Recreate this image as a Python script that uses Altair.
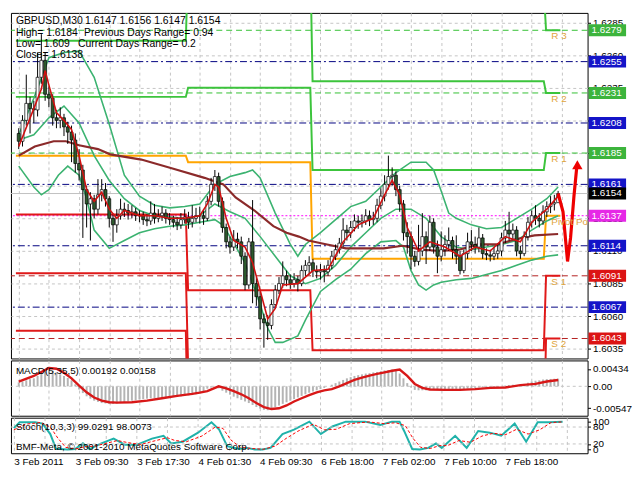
import altair as alt
import pandas as pd

# ---------------- data ----------------
bars = list(range(144))
opens = [1.6200, 1.6194, 1.6210, 1.6223, 1.6219, 1.6218, 1.6243, 1.6256, 1.6230, 1.6227,
         1.6212, 1.6210, 1.6212, 1.6205, 1.6201, 1.6195, 1.6177, 1.6172, 1.6157, 1.6146,
         1.6150, 1.6142, 1.6153, 1.6157, 1.6150, 1.6135, 1.6130, 1.6137, 1.6142, 1.6141,
         1.6139, 1.6140, 1.6137, 1.6137, 1.6134, 1.6133, 1.6139, 1.6135, 1.6137, 1.6139,
         1.6135, 1.6134, 1.6132, 1.6130, 1.6134, 1.6136, 1.6132, 1.6135, 1.6137, 1.6137,
         1.6135, 1.6148, 1.6161, 1.6167, 1.6148, 1.6128, 1.6117, 1.6113, 1.6119, 1.6117,
         1.6106, 1.6084, 1.6117, 1.6085, 1.6075, 1.6058, 1.6055, 1.6053, 1.6069, 1.6080,
         1.6085, 1.6091, 1.6088, 1.6085, 1.6088, 1.6085, 1.6095, 1.6099, 1.6101, 1.6095,
         1.6094, 1.6095, 1.6094, 1.6099, 1.6106, 1.6111, 1.6116, 1.6126, 1.6124, 1.6128,
         1.6133, 1.6132, 1.6133, 1.6137, 1.6134, 1.6135, 1.6145, 1.6152, 1.6161, 1.6167,
         1.6168, 1.6157, 1.6146, 1.6124, 1.6121, 1.6106, 1.6102, 1.6110, 1.6121, 1.6113,
         1.6132, 1.6113, 1.6106, 1.6111, 1.6115, 1.6118, 1.6111, 1.6106, 1.6095, 1.6108,
         1.6117, 1.6115, 1.6113, 1.6120, 1.6108, 1.6107, 1.6106, 1.6108, 1.6110, 1.6120,
         1.6126, 1.6123, 1.6126, 1.6110, 1.6108, 1.6121, 1.6132, 1.6137, 1.6135, 1.6133,
         1.6140, 1.6144, 1.6146, 1.6147]
closes = [1.6194, 1.6210, 1.6223, 1.6219, 1.6218, 1.6243, 1.6256, 1.6230, 1.6227, 1.6212,
          1.6210, 1.6212, 1.6205, 1.6201, 1.6195, 1.6177, 1.6172, 1.6157, 1.6146, 1.6150,
          1.6142, 1.6153, 1.6157, 1.6150, 1.6135, 1.6130, 1.6137, 1.6142, 1.6141, 1.6139,
          1.6140, 1.6137, 1.6137, 1.6134, 1.6133, 1.6139, 1.6135, 1.6137, 1.6139, 1.6135,
          1.6134, 1.6132, 1.6130, 1.6134, 1.6136, 1.6132, 1.6135, 1.6137, 1.6137, 1.6135,
          1.6148, 1.6161, 1.6167, 1.6148, 1.6128, 1.6117, 1.6113, 1.6119, 1.6117, 1.6106,
          1.6084, 1.6117, 1.6085, 1.6075, 1.6058, 1.6055, 1.6053, 1.6069, 1.6080, 1.6085,
          1.6091, 1.6088, 1.6085, 1.6088, 1.6085, 1.6095, 1.6099, 1.6101, 1.6095, 1.6094,
          1.6095, 1.6094, 1.6099, 1.6106, 1.6111, 1.6116, 1.6126, 1.6124, 1.6128, 1.6133,
          1.6132, 1.6133, 1.6137, 1.6134, 1.6135, 1.6145, 1.6152, 1.6161, 1.6167, 1.6168,
          1.6157, 1.6146, 1.6124, 1.6121, 1.6106, 1.6102, 1.6110, 1.6121, 1.6113, 1.6132,
          1.6113, 1.6106, 1.6111, 1.6115, 1.6118, 1.6111, 1.6106, 1.6095, 1.6108, 1.6117,
          1.6115, 1.6113, 1.6120, 1.6108, 1.6107, 1.6106, 1.6108, 1.6110, 1.6120, 1.6126,
          1.6123, 1.6126, 1.6110, 1.6108, 1.6121, 1.6132, 1.6137, 1.6135, 1.6133, 1.6140,
          1.6144, 1.6146, 1.6147, 1.6154]
highs = [1.6204, 1.6214, 1.6245, 1.6228, 1.6225, 1.6262, 1.6276, 1.6262, 1.6236, 1.6230,
         1.6218, 1.6220, 1.6215, 1.6209, 1.6206, 1.6200, 1.6188, 1.6176, 1.6160, 1.6155,
         1.6153, 1.6165, 1.6165, 1.6162, 1.6152, 1.6138, 1.6142, 1.6150, 1.6147, 1.6146,
         1.6145, 1.6143, 1.6141, 1.6140, 1.6138, 1.6148, 1.6146, 1.6142, 1.6144, 1.6142,
         1.6139, 1.6137, 1.6136, 1.6139, 1.6142, 1.6140, 1.6145, 1.6143, 1.6144, 1.6142,
         1.6152, 1.6166, 1.6172, 1.6170, 1.6151, 1.6131, 1.6121, 1.6126, 1.6124, 1.6121,
         1.6109, 1.6120, 1.6149, 1.6090, 1.6079, 1.6062, 1.6061, 1.6073, 1.6084, 1.6090,
         1.6102, 1.6095, 1.6092, 1.6093, 1.6091, 1.6099, 1.6103, 1.6106, 1.6104, 1.6099,
         1.6100, 1.6099, 1.6103, 1.6110, 1.6115, 1.6120, 1.6135, 1.6130, 1.6133, 1.6138,
         1.6137, 1.6138, 1.6142, 1.6141, 1.6140, 1.6150, 1.6158, 1.6168, 1.6183, 1.6174,
         1.6171, 1.6160, 1.6149, 1.6132, 1.6125, 1.6110, 1.6130, 1.6139, 1.6125, 1.6137,
         1.6135, 1.6118, 1.6125, 1.6122, 1.6128, 1.6121, 1.6122, 1.6110, 1.6111, 1.6124,
         1.6126, 1.6121, 1.6128, 1.6123, 1.6112, 1.6111, 1.6113, 1.6116, 1.6124, 1.6133,
         1.6140, 1.6131, 1.6129, 1.6114, 1.6125, 1.6136, 1.6141, 1.6145, 1.6139, 1.6145,
         1.6148, 1.6152, 1.6153, 1.6156]
lows = [1.6188, 1.6190, 1.6206, 1.6200, 1.6208, 1.6213, 1.6238, 1.6225, 1.6220, 1.6206,
        1.6204, 1.6204, 1.6198, 1.6192, 1.6178, 1.6170, 1.6164, 1.6120, 1.6128, 1.6118,
        1.6135, 1.6138, 1.6148, 1.6144, 1.6128, 1.6117, 1.6124, 1.6134, 1.6136, 1.6134,
        1.6135, 1.6133, 1.6132, 1.6130, 1.6129, 1.6130, 1.6131, 1.6132, 1.6133, 1.6131,
        1.6130, 1.6128, 1.6126, 1.6127, 1.6131, 1.6127, 1.6128, 1.6132, 1.6131, 1.6130,
        1.6133, 1.6145, 1.6156, 1.6144, 1.6124, 1.6112, 1.6108, 1.6110, 1.6112, 1.6100,
        1.6080, 1.6081, 1.6070, 1.6068, 1.6050, 1.6036, 1.6042, 1.6050, 1.6066, 1.6077,
        1.6082, 1.6083, 1.6081, 1.6082, 1.6079, 1.6083, 1.6091, 1.6092, 1.6090, 1.6089,
        1.6088, 1.6086, 1.6091, 1.6096, 1.6103, 1.6108, 1.6113, 1.6118, 1.6120, 1.6125,
        1.6127, 1.6128, 1.6130, 1.6129, 1.6130, 1.6132, 1.6142, 1.6148, 1.6157, 1.6160,
        1.6152, 1.6140, 1.6118, 1.6108, 1.6096, 1.6098, 1.6099, 1.6106, 1.6100, 1.6110,
        1.6108, 1.6093, 1.6102, 1.6106, 1.6110, 1.6104, 1.6100, 1.6092, 1.6093, 1.6104,
        1.6110, 1.6108, 1.6109, 1.6104, 1.6103, 1.6102, 1.6103, 1.6104, 1.6106, 1.6116,
        1.6118, 1.6119, 1.6106, 1.6104, 1.6106, 1.6118, 1.6128, 1.6130, 1.6128, 1.6130,
        1.6136, 1.6139, 1.6141, 1.6147]

# Bollinger bands (teal)
bb_up_bars = [0, 4, 8, 12, 16, 20, 24, 28, 32, 36, 40, 44, 48, 52, 56, 60, 62, 64, 68, 72,
              74, 76, 80, 84, 88, 92, 96, 100, 104, 108, 110, 112, 114, 116, 120, 124, 128, 132, 136, 140, 143]
bb_up = [1.6199, 1.6227, 1.6258, 1.6262, 1.6263, 1.6243, 1.6207, 1.6168, 1.6152, 1.6145,
         1.6143, 1.6144, 1.6146, 1.6161, 1.6167, 1.6170, 1.6172, 1.6166, 1.6139, 1.6115,
         1.6106, 1.6115, 1.6124, 1.6134, 1.6144, 1.6148, 1.6159, 1.6170, 1.6178, 1.6178,
         1.6172, 1.6156, 1.6139, 1.6135, 1.6130, 1.6127, 1.6128, 1.6135, 1.6142, 1.6150, 1.6159]
bb_mid_bars = [0, 4, 8, 12, 16, 20, 24, 28, 32, 36, 40, 44, 48, 52, 56, 60, 64, 68, 72, 76,
               80, 84, 88, 92, 96, 100, 104, 108, 112, 116, 120, 124, 128, 132, 136, 140, 143]
bb_mid = [1.6195, 1.6199, 1.6212, 1.6221, 1.6208, 1.6183, 1.6164, 1.6150, 1.6141, 1.6137,
          1.6136, 1.6135, 1.6137, 1.6146, 1.6140, 1.6135, 1.6121, 1.6106, 1.6091, 1.6085,
          1.6089, 1.6099, 1.6113, 1.6124, 1.6135, 1.6142, 1.6142, 1.6135, 1.6121, 1.6113,
          1.6111, 1.6113, 1.6115, 1.6118, 1.6126, 1.6133, 1.6137]
bb_low_bars = [0, 4, 6, 8, 10.5, 13, 16, 18, 20, 24, 28, 32, 36, 40, 44, 48, 52, 54, 56, 60,
               64, 66, 68, 70, 74, 76, 80, 84, 88, 92, 96, 100, 102, 104, 106, 108, 110, 112, 116, 120,
               124, 128, 132, 136, 140, 143]
bb_low = [1.6175, 1.6159, 1.6153, 1.6157, 1.6168, 1.6175, 1.6168, 1.6150, 1.6126, 1.6112,
          1.6118, 1.6124, 1.6127, 1.6129, 1.6130, 1.6132, 1.6134, 1.6130, 1.6121, 1.6101,
          1.6069, 1.6051, 1.6040, 1.6040, 1.6045, 1.6057, 1.6079, 1.6088, 1.6096, 1.6108,
          1.6117, 1.6118, 1.6113, 1.6095, 1.6084, 1.6080, 1.6084, 1.6086, 1.6088, 1.6089,
          1.6092, 1.6095, 1.6099, 1.6103, 1.6106, 1.6107]

# fast moving average (red) and slow moving average (brown)
rma_bars = [0, 4, 6, 7, 8, 10, 12, 14, 16, 18, 20, 22, 24, 26, 28, 32, 36, 40, 44, 48,
            50, 52, 53, 55, 57, 60, 62, 64, 66, 68, 70, 74, 78, 82, 86, 90, 94, 97, 99, 101,
            103, 106, 109, 113, 117, 121, 125, 129, 133, 136, 140, 143]
rma = [1.6190, 1.6219, 1.6234, 1.6248, 1.6237, 1.6216, 1.6210, 1.6203, 1.6183, 1.6157,
       1.6148, 1.6155, 1.6142, 1.6135, 1.6141, 1.6137, 1.6137, 1.6135, 1.6135, 1.6137,
       1.6146, 1.6161, 1.6159, 1.6135, 1.6118, 1.6113, 1.6101, 1.6080, 1.6058, 1.6066,
       1.6084, 1.6085, 1.6095, 1.6096, 1.6117, 1.6130, 1.6135, 1.6153, 1.6164, 1.6153,
       1.6128, 1.6110, 1.6117, 1.6113, 1.6106, 1.6113, 1.6110, 1.6121, 1.6117, 1.6132,
       1.6142, 1.6152]
bma_bars = [0, 4.25, 9.25, 12.5, 16, 21, 24.25, 32.5, 41, 49.25, 54.25, 57.5, 62.5, 67.5, 71,
            74.25, 76.75, 81.75, 86.75, 96.75, 101.75, 106.75, 111.75, 116.75, 121.75, 126.75,
            131.75, 136.75, 143]
bma = [1.6183, 1.6190, 1.6194, 1.6194, 1.6191, 1.6188, 1.6184, 1.6180, 1.6173, 1.6166,
       1.6161, 1.6151, 1.6141, 1.6129, 1.6124, 1.6121, 1.6118, 1.6115, 1.6112, 1.6112,
       1.6114, 1.6111, 1.6110, 1.6111, 1.6115, 1.6115, 1.6119, 1.6122, 1.6123]

# daily pivot levels (4 days)
day_start = [-0.75, 44.9, 77.9, 139.8]
day_end = [44.3, 77.3, 139.2, 143.6]
piv_P = [1.6183, 1.6178, 1.6104, 1.6137]
piv_R1 = [1.6228, 1.6235, 1.6172, 1.6185]
piv_R2 = [1.6271, 1.6333, 1.6240, 1.6231]
piv_R3 = [1.6318, 1.6380, 1.6310, 1.6279]
piv_S1 = [1.6138, 1.6080, 1.6034, 1.6091]
piv_S2 = [1.6093, 1.6023, 1.5966, 1.6043]
piv_S3 = [1.6049, 1.5965, 1.5900, 1.5995]

# full-width level lines of the current day
green_dashed = [1.6279, 1.6231, 1.6185]
navy_dashdot = [1.6255, 1.6208, 1.6161, 1.6114, 1.6067]
magenta_dotted = [1.6137]
red_dashed = [1.6091, 1.6043]
bid_line = [1.6154]

level_text = ["R 3", "R 2", "R 1", "Pivot Point", "S 1", "S 2"]
level_text_price = [1.6279, 1.6231, 1.6185, 1.6137, 1.6091, 1.6043]
level_text_bar = 141.2

box_prices = [1.6279, 1.6255, 1.6231, 1.6208, 1.6185, 1.6161, 1.6154, 1.6137, 1.6114, 1.6091, 1.6067, 1.6043]
box_colors = ["#3cb43c", "#1414c8", "#3cb43c", "#1414c8", "#3cb43c", "#1414c8", "#000000",
              "#e628e6", "#1414c8", "#dc1414", "#1414c8", "#dc1414"]

price_ticks = [1.6035, 1.6060, 1.6085, 1.6110, 1.6135, 1.6160, 1.6185, 1.6210, 1.6235, 1.6260, 1.6285]

# forecast zig-zag arrow
fc_bars = [143, 144.3, 145.5, 146.3, 147.2, 148.0]
fc_prices = [1.6154, 1.6140, 1.6102, 1.6120, 1.6152, 1.6176]
fc_head_bar = [148.1]
fc_head_price = [1.6176]

# MACD
macd_hist = [0.00100, 0.00120, 0.00150, 0.00180, 0.00200, 0.00260, 0.00340, 0.00380, 0.00400, 0.00390,
             0.00350, 0.00300, 0.00260, 0.00210, 0.00150, 0.00050, -0.00080, -0.00170, -0.00250, -0.00310,
             -0.00360, -0.00390, -0.00420, -0.00430, -0.00440, -0.00440, -0.00430, -0.00420, -0.00400, -0.00380,
             -0.00360, -0.00350, -0.00330, -0.00320, -0.00310, -0.00300, -0.00300, -0.00290, -0.00280, -0.00280,
             -0.00270, -0.00260, -0.00260, -0.00250, -0.00240, -0.00230, -0.00220, -0.00200, -0.00170, -0.00120,
             -0.00060, -0.00030, 0.00000, -0.00050, -0.00110, -0.00160, -0.00210, -0.00260, -0.00300, -0.00340,
             -0.00380, -0.00420, -0.00470, -0.00520, -0.00560, -0.00590, -0.00600, -0.00560, -0.00520, -0.00480,
             -0.00440, -0.00400, -0.00360, -0.00320, -0.00280, -0.00240, -0.00200, -0.00160, -0.00130, -0.00100,
             -0.00070, -0.00040, 0.00000, 0.00040, 0.00080, 0.00120, 0.00160, 0.00200, 0.00230, 0.00260,
             0.00280, 0.00300, 0.00320, 0.00330, 0.00350, 0.00360, 0.00380, 0.00400, 0.00410, 0.00420,
             0.00400, 0.00320, 0.00200, 0.00080, -0.00030, -0.00090, -0.00100, -0.00100, -0.00100, -0.00090,
             -0.00090, -0.00090, -0.00080, -0.00080, -0.00080, -0.00080, -0.00080, -0.00090, -0.00080, -0.00060,
             -0.00050, -0.00040, -0.00030, -0.00030, -0.00030, -0.00030, -0.00020, -0.00010, 0.00000, 0.00020,
             0.00030, 0.00040, 0.00030, 0.00030, 0.00060, 0.00090, 0.00120, 0.00140, 0.00150, 0.00170,
             0.00180, 0.00185, 0.00190, 0.00192]
sig_bars = [0, 4, 8, 10, 12, 14, 16, 18, 20, 22, 24, 26, 30, 34, 38, 42, 46, 48, 50, 53,
            55, 57, 59, 61, 63, 65, 67, 69, 71, 73, 75, 77, 79, 81, 83, 85, 87, 89, 91, 93,
            95, 97, 99, 101, 103, 105, 107, 109, 113, 117, 121, 125, 129, 133, 137, 140, 143]
sig_vals = [0.0012, 0.0026, 0.0046, 0.0044, 0.0034, 0.0020, 0.0002, -0.0015, -0.0028, -0.0036,
            -0.0040, -0.0041, -0.0040, -0.0036, -0.0030, -0.0024, -0.0019, -0.0016, -0.0012, 0.0000,
            -0.0005, -0.0012, -0.0020, -0.0030, -0.0042, -0.0052, -0.0057, -0.0055, -0.0048, -0.0038,
            -0.0030, -0.0022, -0.0015, -0.0010, -0.0007, 0.0000, 0.0008, 0.0016, 0.0022, 0.0027,
            0.0031, 0.0035, 0.0039, 0.0042, 0.0026, 0.0006, -0.0004, -0.0008, -0.0009, -0.0009,
            -0.0007, -0.0004, -0.0003, 0.0003, 0.0006, 0.0012, 0.00158]
macd_tick_vals = [0.00434, 0.0, -0.00547]
macd_tick_text = ["0.00434", "0.00", "-0.00547"]

# Stochastic
sto_bars = [0, 1.5, 5.5, 7.5, 9.5, 11, 14, 16, 18, 19.7, 22.8, 26, 29, 32, 36, 39, 41, 44, 48, 51.5,
            53.5, 55.6, 58.7, 60.7, 62.8, 64.8, 66.9, 70, 73, 77, 80, 83, 86.5, 91.5, 95.5, 98.5, 100.5,
            101.7, 103.8, 105.8, 108, 110, 111.5, 115, 118, 121, 124, 127, 130.5, 133.5, 136.5, 139.5, 143]
sto_main = [76, 97, 97, 92, 55, 3, 0, 2, 22, 2, 22, 39, 17, 17, 39, 49, 22, 28, 60, 97,
            71, 12, 2, 6, 0, 0, 6, 55, 71, 99, 55, 82, 99, 99, 87, 99, 99, 66, 2, 0,
            6, 22, 6, 49, 6, 66, 60, 49, 92, 28, 97, 97, 99.03]
sto_sig_bars = [0, 3, 7, 9.5, 11.5, 13.5, 16, 18.5, 21, 24, 27, 30, 33, 37, 40, 42, 45, 49, 52.5, 54.5,
                56.5, 59, 62, 65, 68, 71, 74, 78, 81, 84, 87.5, 92.5, 96.5, 99.5, 102, 104, 106, 108.5,
                111, 113, 116, 119, 122, 125, 128, 131, 134, 137, 140, 143]
sto_sig = [70, 90, 96, 80, 40, 8, 2, 10, 12, 22, 32, 24, 18, 32, 42, 32, 28, 48, 80, 75,
           35, 8, 4, 1, 12, 40, 65, 90, 70, 72, 92, 98, 92, 95, 85, 40, 8, 4, 14, 14,
           32, 26, 48, 58, 52, 72, 55, 70, 96, 98.01]
sto_levels = [20, 80]
sto_ticks = [0, 20, 80, 100]

grid_bars = list(range(0, 145, 8))
time_label_bars = [0, 16, 32, 48, 64, 80, 96, 112, 128]
time_labels = ["3 Feb 2011", "3 Feb 09:30", "3 Feb 17:30", "4 Feb 01:30", "4 Feb 09:30",
               "6 Feb 18:00", "7 Feb 02:00", "7 Feb 10:00", "7 Feb 18:00"]

header_rows = [
    ("GBPUSD,M30", 5, 8), ("1.6147 1.6156 1.6147 1.6154", 75, 8),
    ("High= 1.6184", 5, 20), ("Previous Days Range= 0.94", 74, 20),
    ("Low= 1.609", 5, 32), ("Current Days Range= 0.2", 68, 32),
    ("Close= 1.6138", 5, 43),
]

# ---------------- layout / style ----------------
W = 584
H_MAIN, H_MACD, H_STO = 350, 56, 36
FONT = "Liberation Sans"
GRID = "#c4c4c4"
TEAL = "#3cb371"

XS = alt.Scale(domain=[-0.75, 149.5], nice=False, zero=False)
PS = alt.Scale(domain=[1.60277, 1.62923], nice=False, zero=False)
MS = alt.Scale(domain=[-0.00738, 0.00649], nice=False, zero=False)
SS = alt.Scale(domain=[-13, 113], nice=False, zero=False)

X_GRID_AXIS = alt.Axis(values=grid_bars, grid=True, gridDash=[3, 3], gridColor=GRID,
                       labels=False, ticks=False, domain=False, title=None)
time_expr = "".join(f"datum.value == {b} ? '{t}' : " for b, t in zip(time_label_bars, time_labels)) + "''"
X_TIME_AXIS = alt.Axis(values=grid_bars, grid=True, gridDash=[3, 3], gridColor=GRID, labelExpr=time_expr,
                       labelAlign="left", labelFontSize=10, labelPadding=3, labelOverlap=False,
                       labelFlush=False, ticks=False, domain=False, title=None)
PRICE_AXIS = alt.Axis(orient="right", values=price_ticks, format=".4f", grid=True, gridDash=[3, 3],
                      gridColor=GRID, tickSize=3, tickColor="black", domain=False,
                      labelFontSize=10, labelPadding=2, labelOverlap=False, title=None)
macd_expr = "".join(f"abs(datum.value - ({v})) < 1e-7 ? '{t}' : "
                    for v, t in zip(macd_tick_vals, macd_tick_text)) + "''"
MACD_AXIS = alt.Axis(orient="right", values=macd_tick_vals, labelExpr=macd_expr, grid=False, tickSize=3,
                     tickColor="black", domain=False, labelFontSize=10, labelPadding=2,
                     labelOverlap=False, title=None)
STO_AXIS = alt.Axis(orient="right", values=sto_ticks, format="d", grid=False, tickSize=3, tickColor="black",
                    domain=False, labelFontSize=10, labelPadding=2, labelOverlap=False, title=None)


def xm(field="bar"):
    return alt.X(f"{field}:Q", scale=XS, axis=X_GRID_AXIS)


def xt(field="bar"):
    return alt.X(f"{field}:Q", scale=XS, axis=X_TIME_AXIS)


def yp(field="p"):
    return alt.Y(f"{field}:Q", scale=PS, axis=PRICE_AXIS)


def ym(field="v"):
    return alt.Y(f"{field}:Q", scale=MS, axis=MACD_AXIS)


def ys(field="v"):
    return alt.Y(f"{field}:Q", scale=SS, axis=STO_AXIS)


# ---------------- main price panel ----------------
cdf = pd.DataFrame({"bar": bars, "open": opens, "high": highs, "low": lows, "close": closes})
cdf["fill"] = ["#ffffff" if c >= o else "#2d5a2d" for o, c in zip(opens, closes)]

carrier = alt.Chart(cdf).mark_point(opacity=0).encode(x=xm(), y=yp("close"))


def hrule(vals, color, dash=None, width=1.0):
    kw = dict(color=color, strokeWidth=width)
    if dash:
        kw["strokeDash"] = dash
    return alt.Chart(pd.DataFrame({"p": vals})).mark_rule(**kw).encode(y=yp())


rules = [
    hrule(bid_line, "#c0c0c0"),
    hrule(green_dashed, "#33c033", [6, 4]),
    hrule(navy_dashdot, "#000080", [7, 3, 2, 3]),
    hrule(magenta_dotted, "#ff00ff", [2, 2]),
    hrule(red_dashed, "#b41e1e", [6, 4]),
]

piv_rows = []
for name, vals, col in [("P", piv_P, "#ffa500"), ("R1", piv_R1, "#3cc43c"), ("R2", piv_R2, "#3cc43c"),
                        ("R3", piv_R3, "#3cc43c"), ("S1", piv_S1, "#e01818"), ("S2", piv_S2, "#e01818"),
                        ("S3", piv_S3, "#e01818")]:
    for d in range(len(day_start)):
        piv_rows.append({"level": name, "bar": day_start[d], "p": vals[d], "col": col, "o": 2 * d})
        piv_rows.append({"level": name, "bar": day_end[d], "p": vals[d], "col": col, "o": 2 * d + 1})
pivots = alt.Chart(pd.DataFrame(piv_rows)).mark_line(clip=True, strokeWidth=2).encode(
    x=xm(), y=yp(), color=alt.Color("col:N", scale=None), detail="level:N", order="o:Q")

bb_rows = ([{"band": "up", "bar": b, "p": v} for b, v in zip(bb_up_bars, bb_up)] +
           [{"band": "mid", "bar": b, "p": v} for b, v in zip(bb_mid_bars, bb_mid)] +
           [{"band": "low", "bar": b, "p": v} for b, v in zip(bb_low_bars, bb_low)])
bands = alt.Chart(pd.DataFrame(bb_rows)).mark_line(color=TEAL, strokeWidth=1.6, clip=True).encode(
    x=xm(), y=yp(), detail="band:N")

slow_ma = alt.Chart(pd.DataFrame({"bar": bma_bars, "p": bma})).mark_line(
    color="#8b2a2a", strokeWidth=2.2).encode(x=xm(), y=yp())

wicks = alt.Chart(cdf).mark_rule(color="black", strokeWidth=1).encode(
    x=xm(), y=yp("low"), y2="high:Q")
bodies = alt.Chart(cdf).mark_bar(size=3, stroke="black", strokeWidth=0.7).encode(
    x=xm(), y=yp("open"), y2="close:Q", color=alt.Color("fill:N", scale=None))

fast_ma = alt.Chart(pd.DataFrame({"bar": rma_bars, "p": rma})).mark_line(
    color="#d01010", strokeWidth=1.6).encode(x=xm(), y=yp())

forecast = alt.Chart(pd.DataFrame({"bar": fc_bars, "p": fc_prices})).mark_line(
    color="#ee0000", strokeWidth=3.2).encode(x=xm(), y=yp())
arrow_head = alt.Chart(pd.DataFrame({"bar": fc_head_bar, "p": fc_head_price})).mark_point(
    shape="triangle-up", filled=True, size=110, color="#ee0000", opacity=1).encode(x=xm(), y=yp())

lvl_text = alt.Chart(pd.DataFrame({"t": level_text, "p": level_text_price,
                                   "bar": [level_text_bar] * len(level_text)})).mark_text(
    align="left", baseline="top", dy=1, color="#dfa43c", fontSize=10, font=FONT, clip=True).encode(
    x=xm(), y=yp(), text="t:N")

header = [alt.Chart(pd.DataFrame({"d": [0]})).mark_text(
    align="left", baseline="middle", fontSize=10.5, font=FONT, color="black").encode(
    x=alt.value(xx), y=alt.value(yy), text=alt.value(t)) for t, xx, yy in header_rows]

bdf = pd.DataFrame({"p": box_prices, "col": box_colors, "label": [f"{v:.4f}" for v in box_prices]})
boxes = alt.Chart(bdf).mark_rect(yOffset=-6, y2Offset=6).encode(
    x=alt.value(W + 1), x2=alt.value(W + 39), y=yp(), y2="p:Q", color=alt.Color("col:N", scale=None))
box_text = alt.Chart(bdf).mark_text(align="left", baseline="middle", color="white",
                                    fontSize=10, font=FONT).encode(
    x=alt.value(W + 4), y=yp(), text="label:N")

main = alt.layer(carrier, *rules, pivots, bands, slow_ma, wicks, bodies, fast_ma, forecast, arrow_head,
                 lvl_text, *header, boxes, box_text).properties(width=W, height=H_MAIN)

# ---------------- MACD panel ----------------
mdf = pd.DataFrame({"bar": bars, "v": macd_hist})
hist = alt.Chart(mdf).mark_bar(size=2, color="#b4b4b4").encode(x=xm(), y=ym(), y2=alt.datum(0))
zero_line = alt.Chart(pd.DataFrame({"v": [0.0]})).mark_rule(color=GRID, strokeDash=[3, 3]).encode(y=ym())
signal = alt.Chart(pd.DataFrame({"bar": sig_bars, "v": sig_vals})).mark_line(
    color="#d81818", strokeWidth=2.4).encode(x=xm(), y=ym())
macd_label = alt.Chart(pd.DataFrame({"d": [0]})).mark_text(
    align="left", baseline="middle", fontSize=10, font=FONT, color="black").encode(
    x=alt.value(5), y=alt.value(11), text=alt.value("MACD(5,35,5) 0.00192 0.00158"))
macd = alt.layer(hist, zero_line, signal, macd_label).properties(width=W, height=H_MACD)

# ---------------- Stochastic panel ----------------
sto_line = alt.Chart(pd.DataFrame({"bar": sto_bars, "v": sto_main})).mark_line(
    color="#20b2aa", strokeWidth=2).encode(x=xt(), y=ys())
sto_lvls = alt.Chart(pd.DataFrame({"v": sto_levels})).mark_rule(color=GRID, strokeDash=[3, 3]).encode(y=ys())
sto_signal = alt.Chart(pd.DataFrame({"bar": sto_sig_bars, "v": sto_sig})).mark_line(
    color="#ff0000", strokeWidth=1, strokeDash=[3, 2]).encode(x=xt(), y=ys())
sto_label = alt.Chart(pd.DataFrame({"d": [0]})).mark_text(
    align="left", baseline="middle", fontSize=10, font=FONT, color="black").encode(
    x=alt.value(5), y=alt.value(9), text=alt.value("Stoch(10,3,3) 99.0291 98.0073"))
copy_label = alt.Chart(pd.DataFrame({"d": [0]})).mark_text(
    align="left", baseline="middle", fontSize=10, font=FONT, color="black").encode(
    x=alt.value(5), y=alt.value(30), text=alt.value("BMF-Meta, © 2001-2010 MetaQuotes Software Corp."))
sto = alt.layer(sto_line, sto_lvls, sto_signal, sto_label, copy_label).properties(width=W, height=H_STO)

chart = alt.vconcat(main, macd, sto, spacing=2, bounds="flush").properties(
    padding={"left": 1, "top": 1, "right": 0, "bottom": 0}, background="white"
).configure_view(stroke="black", strokeWidth=1).configure_axis(
    labelFont=FONT, labelColor="black", labelFontSize=10)

chart.save("out.html", embed_options={"renderer": "svg", "actions": False})
